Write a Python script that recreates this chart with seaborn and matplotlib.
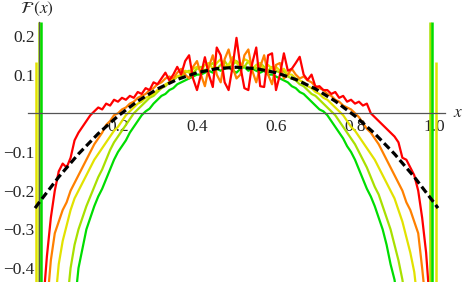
import numpy as np
import pandas as pd
import matplotlib
matplotlib.use("Agg")
import matplotlib.pyplot as plt
import seaborn as sns
from matplotlib.ticker import FixedLocator

sns.set_style("white")
plt.rcParams['font.family'] = ['Liberation Serif', 'DejaVu Serif']
plt.rcParams['mathtext.fontset'] = 'stix'

# ---------------- data ----------------
x_grid = np.linspace(0.0, 1.0, 101)

red = [-0.5, -0.5, -0.37, -0.27, -0.20, -0.15, -0.13, -0.14, -0.115, -0.07,
       -0.05, -0.035, -0.02, -0.005, 0.005, 0.015, 0.01, 0.025, 0.02, 0.035,
       0.03, 0.04, 0.035, 0.045, 0.04, 0.055, 0.05, 0.065, 0.06, 0.08,
       0.075, 0.09, 0.105, 0.085, 0.10, 0.12, 0.10, 0.135, 0.15, 0.09,
       0.06, 0.10, 0.145, 0.10, 0.068, 0.17, 0.15, 0.08, 0.06, 0.12,
       0.195,
       0.12, 0.065, 0.06, 0.13, 0.17, 0.07, 0.068, 0.15, 0.155, 0.06,
       0.10, 0.155, 0.11, 0.115, 0.13, 0.146, 0.10, 0.086, 0.10, 0.068,
       0.07, 0.06, 0.06, 0.05, 0.055, 0.04, 0.045, 0.03, 0.035, 0.025,
       0.03, 0.02, 0.025, 0.0, -0.01, -0.02, -0.03, -0.04, -0.05, -0.06,
       -0.075, -0.115, -0.12, -0.14, -0.16, -0.20, -0.27, -0.36, -0.5, -0.5]

orange = [-0.5, -0.5, -0.5, -0.38, -0.31, -0.28, -0.25, -0.23, -0.20, -0.18,
          -0.16, -0.14, -0.12, -0.10, -0.08, -0.065, -0.05, -0.03, -0.02, -0.005,
          0.0, 0.01, 0.015, 0.025, 0.03, 0.04, 0.045, 0.05, 0.06, 0.065,
          0.075, 0.08, 0.09, 0.095, 0.09, 0.105, 0.115, 0.10, 0.09, 0.12,
          0.135, 0.10, 0.07, 0.12, 0.15, 0.10, 0.08, 0.14, 0.165, 0.12,
          0.09,
          0.10, 0.15, 0.165, 0.11, 0.08, 0.12, 0.15, 0.10, 0.075, 0.125,
          0.13, 0.09, 0.10, 0.115, 0.10, 0.09, 0.095, 0.085, 0.08, 0.07,
          0.065, 0.06, 0.05, 0.045, 0.035, 0.03, 0.02, 0.015, 0.01, 0.0,
          -0.01, -0.025, -0.04, -0.05, -0.065, -0.08, -0.10, -0.12, -0.14, -0.16,
          -0.18, -0.20, -0.23, -0.25, -0.28, -0.31, -0.40, -0.5, -0.5, -0.5]

gold = [-0.5, -0.5, -0.5, -0.5, -0.5, -0.39, -0.33, -0.29, -0.25, -0.22,
        -0.20, -0.18, -0.16, -0.14, -0.12, -0.105, -0.09, -0.075, -0.06, -0.045,
        -0.035, -0.02, -0.005, 0.005, 0.015, 0.025, 0.03, 0.04, 0.045, 0.05,
        0.06, 0.065, 0.075, 0.08, 0.09, 0.095, 0.10, 0.11, 0.105, 0.115,
        0.12, 0.11, 0.125, 0.13, 0.115, 0.13, 0.14, 0.12, 0.125, 0.145,
        0.13,
        0.12, 0.14, 0.135, 0.115, 0.125, 0.13, 0.11, 0.125, 0.115, 0.12,
        0.11, 0.115, 0.10, 0.10, 0.09, 0.085, 0.08, 0.07, 0.065, 0.055,
        0.05, 0.04, 0.035, 0.025, 0.015, 0.005, -0.005, -0.02, -0.035, -0.045,
        -0.06, -0.075, -0.09, -0.105, -0.12, -0.14, -0.16, -0.18, -0.20, -0.22,
        -0.25, -0.28, -0.32, -0.36, -0.41, -0.5, -0.5, -0.5, -0.5, -0.5]

ygreen = [-0.5, -0.5, -0.5, -0.5, -0.5, -0.5, -0.5, -0.5, -0.40, -0.34,
          -0.30, -0.27, -0.24, -0.215, -0.19, -0.165, -0.145, -0.12, -0.095, -0.075,
          -0.06, -0.045, -0.03, -0.015, 0.0, 0.01, 0.02, 0.03, 0.04, 0.045,
          0.055, 0.065, 0.07, 0.08, 0.085, 0.095, 0.095, 0.105, 0.11, 0.105,
          0.115, 0.12, 0.11, 0.12, 0.13, 0.115, 0.125, 0.135, 0.12, 0.125,
          0.135,
          0.125, 0.12, 0.135, 0.12, 0.115, 0.13, 0.12, 0.11, 0.12, 0.11,
          0.105, 0.11, 0.095, 0.09, 0.085, 0.075, 0.07, 0.06, 0.05, 0.045,
          0.035, 0.025, 0.015, 0.005, -0.005, -0.02, -0.035, -0.05, -0.065, -0.08,
          -0.10, -0.12, -0.14, -0.165, -0.19, -0.21, -0.24, -0.27, -0.30, -0.34,
          -0.38, -0.43, -0.5, -0.5, -0.5, -0.5, -0.5, -0.5, -0.5, -0.5]

green = [-0.5, -0.5, -0.5, -0.5, -0.5, -0.5, -0.5, -0.5, -0.5, -0.5,
         -0.40, -0.35, -0.30, -0.27, -0.24, -0.215, -0.195, -0.17, -0.145, -0.12,
         -0.10, -0.085, -0.07, -0.05, -0.035, -0.02, -0.005, 0.005, 0.012, 0.025,
         0.035, 0.045, 0.05, 0.06, 0.065, 0.075, 0.08, 0.085, 0.09, 0.095,
         0.10, 0.10, 0.105, 0.11, 0.105, 0.115, 0.11, 0.115, 0.12, 0.11,
         0.105,
         0.115, 0.12, 0.11, 0.115, 0.11, 0.105, 0.11, 0.10, 0.10, 0.095,
         0.09, 0.085, 0.08, 0.07, 0.065, 0.055, 0.05, 0.04, 0.03, 0.02,
         0.01, 0.005, -0.005, -0.02, -0.035, -0.05, -0.065, -0.085, -0.10, -0.12,
         -0.145, -0.17, -0.195, -0.215, -0.24, -0.27, -0.30, -0.34, -0.39, -0.43,
         -0.5, -0.5, -0.5, -0.5, -0.5, -0.5, -0.5, -0.5, -0.5, -0.5]

curve_names = ["green", "ygreen", "gold", "orange", "red"]
curve_values = [green, ygreen, gold, orange, red]
curve_colors = ["#00dd00", "#a8e000", "#e2e200", "#ff8000", "#ff0000"]

# boundary spikes of the curves
spike_x = [-0.007, 0.0, 0.006, 0.99, 0.995, 1.005]
spike_top = [0.133, 0.237, 0.237, 0.237, 0.237, 0.133]
spike_curve = ["gold", "ygreen", "green", "ygreen", "green", "gold"]

# theoretical curve (dashed)
dash_x = [-0.01, 0.0, 0.05, 0.10, 0.15, 0.20, 0.25, 0.30, 0.35, 0.40, 0.45, 0.50,
          0.55, 0.60, 0.65, 0.70, 0.75, 0.80, 0.85, 0.90, 0.95, 1.00, 1.01]
dash_y = [-0.245, -0.231, -0.1645, -0.105, -0.0525, -0.007, 0.0315, 0.063, 0.0875, 0.105, 0.1155, 0.119,
          0.1155, 0.105, 0.0875, 0.063, 0.0315, -0.007, -0.0525, -0.105, -0.1645, -0.231, -0.245]

x_ticks = [0.2, 0.4, 0.6, 0.8, 1.0]
x_tick_labels = ["0.2", "0.4", "0.6", "0.8", "1.0"]
y_ticks = [-0.4, -0.3, -0.2, -0.1, 0.1, 0.2]
y_tick_labels = ["\u22120.4", "\u22120.3", "\u22120.2", "\u22120.1", "0.1", "0.2"]

# ---------------- figure ----------------
fig = plt.figure(figsize=(4.63, 2.82), dpi=100)
ax = fig.add_axes([0, 0, 1, 1])

rows = []
for name, vals in zip(curve_names, curve_values):
    for xv, yv in zip(x_grid, vals):
        rows.append((name, xv, yv))
df = pd.DataFrame(rows, columns=["curve", "x", "y"])
palette = dict(zip(curve_names, curve_colors))

sns.lineplot(data=df, x="x", y="y", hue="curve", hue_order=curve_names,
             palette=palette, estimator=None, sort=False, legend=False,
             linewidth=1.6, ax=ax, zorder=3)

ax.vlines(spike_x, -0.5, spike_top, colors=[palette[c] for c in spike_curve],
          linewidth=1.8, zorder=3)

sns.lineplot(x=dash_x, y=dash_y, color="black", linewidth=2.3, sort=False,
             estimator=None, ax=ax, zorder=5)
ax.lines[-1].set_dashes((2.4, 1.2))

ax.set_xlim(-0.0987, 1.0734)
ax.set_ylim(-0.436, 0.2928)
ax.set_xlabel("")
ax.set_ylabel("")

for s in ["top", "right"]:
    ax.spines[s].set_visible(False)
ax.spines["left"].set_position(("data", 0))
ax.spines["bottom"].set_position(("data", 0))
ax.spines["left"].set_bounds(-0.436, 0.237)
ax.spines["bottom"].set_bounds(-0.028, 1.028)
for s in ["left", "bottom"]:
    ax.spines[s].set_color("#555555")
    ax.spines[s].set_linewidth(0.9)
    ax.spines[s].set_zorder(4)

ax.set_xticks(x_ticks, labels=x_tick_labels)
ax.set_yticks(y_ticks, labels=y_tick_labels)
ax.xaxis.set_minor_locator(FixedLocator([0.05, 0.1, 0.15, 0.25, 0.3, 0.35, 0.45, 0.5, 0.55,
                                         0.65, 0.7, 0.75, 0.85, 0.9, 0.95]))
ax.yaxis.set_minor_locator(FixedLocator(np.round(np.arange(-0.42, 0.23, 0.02), 2)))
ax.tick_params(which="major", direction="in", length=3.2, width=0.8, color="#555555",
               labelsize=12.5, pad=3)
ax.tick_params(which="minor", direction="in", length=2.0, width=0.7, color="#555555")
ax.tick_params(axis="x", which="major", pad=4)
ax.xaxis.set_zorder(1)
ax.yaxis.set_zorder(1)
ax.grid(False)

fig.text(37 / 463, 1 - 9 / 282, r"$\mathcal{F}\,(x)$", ha="center", va="center", fontsize=12.5)
fig.text(458 / 463, 1 - 113 / 282, r"$x$", ha="center", va="center", fontsize=12.5)

fig.savefig("out.png", dpi=100)
